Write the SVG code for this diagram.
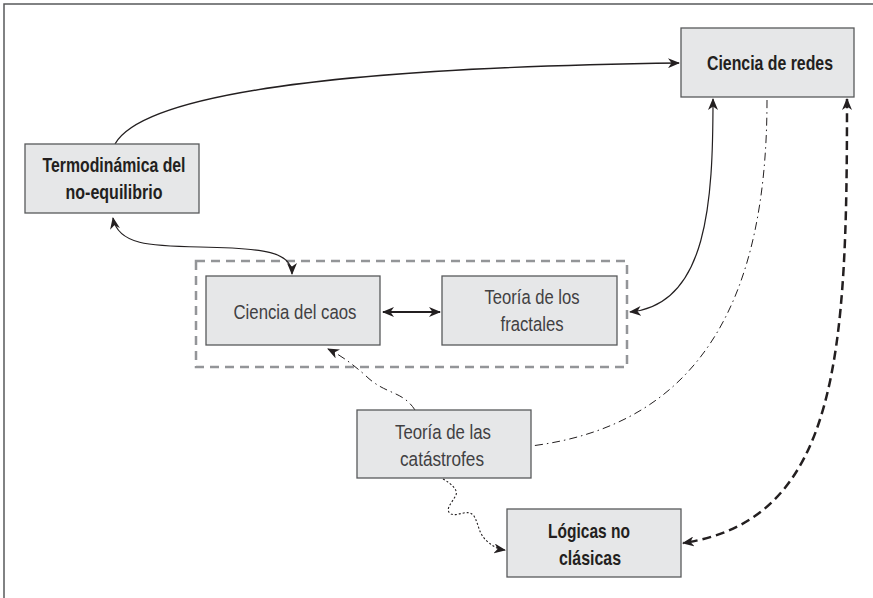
<svg xmlns="http://www.w3.org/2000/svg" width="873" height="598" viewBox="0 0 873 598">
<style>
.box{fill:#e6e7e8;stroke:#58595b;stroke-width:1.3}
.b{font-family:"Liberation Sans",Arial,sans-serif;font-weight:bold;font-size:21px;fill:#231f20;text-anchor:middle}
.r{font-family:"Liberation Sans",Arial,sans-serif;font-size:20.5px;fill:#414042;text-anchor:middle}
.c{fill:none;stroke:#231f20}
</style>
<defs>
<marker id="ah" viewBox="0 0 12 10" refX="11" refY="5" markerWidth="12" markerHeight="10" markerUnits="userSpaceOnUse" orient="auto-start-reverse">
<path d="M0,0 L12,5 L0,10 L3.5,5 z" fill="#231f20"/>
</marker>
</defs>
<rect x="0" y="0" width="873" height="598" fill="#fff"/>
<path d="M4,598 V4 H873" fill="none" stroke="#58595b" stroke-width="1.5"/>
<rect x="196" y="261" width="431" height="106" fill="none" stroke="#939598" stroke-width="2.5" stroke-dasharray="9,6"/>
<g id="connectors">
<path class="c" stroke-width="1.3" d="M115,144 C140,100 300,68 679,63" marker-end="url(#ah)"/>
<path class="c" stroke-width="1.2" d="M113,218 C118,245 150,246 200,247 C265,248 292,252 292,274" marker-start="url(#ah)" marker-end="url(#ah)"/>
<path class="c" stroke-width="1.8" d="M383,312 H440" marker-start="url(#ah)" marker-end="url(#ah)"/>
<path class="c" stroke-width="1.2" d="M713,99 C713,200 708,305 630,312" marker-start="url(#ah)" marker-end="url(#ah)"/>
<path class="c" stroke-width="1" stroke-dasharray="8,4,1.5,4" d="M767,100 C767,300 700,425 531,446"/>
<path class="c" stroke-width="2.5" stroke-dasharray="9,5" d="M847,99 C847,350 840,520 683,543" marker-start="url(#ah)" marker-end="url(#ah)"/>
<path class="c" stroke-width="1" stroke-dasharray="8,4,1.5,4" d="M415,410 C402,390 385,395 365,375 C350,362 340,355 328,349" marker-end="url(#ah)"/>
<path class="c" stroke-width="1.1" stroke-dasharray="2,2" d="M443,479 C452,484 458,490 456,495 C452,503 444,510 451,514 C458,517 468,508 474,516 C479,524 478,534 488,542 C494,547 498,549 505,550" marker-end="url(#ah)"/>
</g>
<g id="ciencia-redes">
<rect class="box" x="681" y="28" width="173" height="69"/>
<text class="b" x="770" y="70" textLength="126" lengthAdjust="spacingAndGlyphs">Ciencia de redes</text>
</g>
<g id="termodinamica">
<rect class="box" x="25" y="144" width="174" height="69"/>
<text class="b" x="114" y="172" textLength="143" lengthAdjust="spacingAndGlyphs">Termodinámica del</text>
<text class="b" x="114" y="199" textLength="97" lengthAdjust="spacingAndGlyphs">no-equilibrio</text>
</g>
<g id="ciencia-caos">
<rect class="box" x="206" y="276" width="174" height="69"/>
<text class="r" x="295" y="319" textLength="123" lengthAdjust="spacingAndGlyphs">Ciencia del caos</text>
</g>
<g id="fractales">
<rect class="box" x="442" y="276" width="175" height="69"/>
<text class="r" x="532" y="304" textLength="95" lengthAdjust="spacingAndGlyphs">Teoría de los</text>
<text class="r" x="532" y="331" textLength="63" lengthAdjust="spacingAndGlyphs">fractales</text>
</g>
<g id="catastrofes">
<rect class="box" x="357" y="410" width="174" height="68"/>
<text class="r" x="443" y="439" textLength="96" lengthAdjust="spacingAndGlyphs">Teoría de las</text>
<text class="r" x="442" y="466" textLength="84" lengthAdjust="spacingAndGlyphs">catástrofes</text>
</g>
<g id="logicas">
<rect class="box" x="507" y="509" width="174" height="68"/>
<text class="b" x="589" y="538" textLength="82" lengthAdjust="spacingAndGlyphs">Lógicas no</text>
<text class="b" x="590" y="565" textLength="62" lengthAdjust="spacingAndGlyphs">clásicas</text>
</g>
</svg>
